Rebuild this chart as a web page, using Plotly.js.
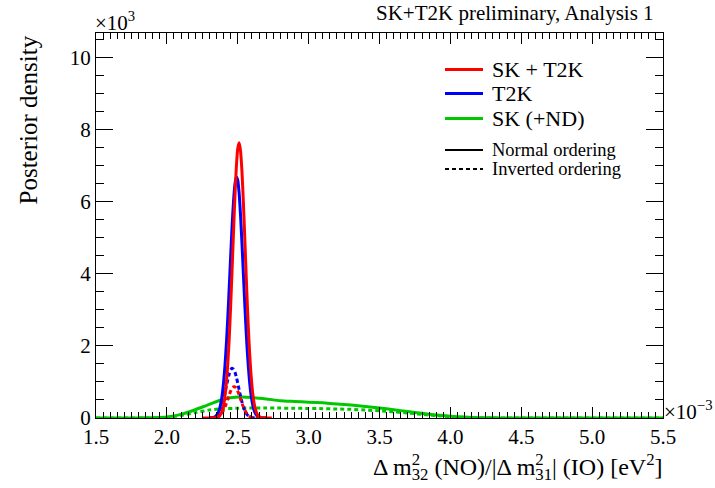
<!DOCTYPE html>
<html>
<head>
<meta charset="utf-8">
<script src="https://cdn.plot.ly/plotly-3.0.1.min.js"></script>
<style>html,body{margin:0;padding:0;background:#fff;}#chart{width:715px;height:488px;}</style>
</head>
<body>
<div id="chart"></div>
<script>
// ---- Data (units: x in 1e-3 eV^2, y in 1e3) ----
const peakX = [2.30,2.31,2.32,2.33,2.34,2.35,2.36,2.37,2.38,2.39,2.40,2.41,2.42,2.43,2.44,2.45,2.46,2.47,2.48,2.49,2.50,2.51,2.52,2.53,2.54,2.55,2.56,2.57,2.58,2.59,2.60,2.61,2.62,2.63,2.64,2.65,2.66,2.67,2.68,2.69,2.70];
const skT2kNO = [0,0,0.001,0.002,0.005,0.011,0.025,0.052,0.104,0.197,0.355,0.608,0.988,1.524,2.233,3.109,4.110,5.158,6.149,6.961,7.482,7.640,7.405,6.818,5.961,4.950,3.903,2.922,2.078,1.404,0.900,0.549,0.317,0.174,0.091,0.045,0.021,0.009,0.004,0.0015,0];
const t2kNO = [0,0.004,0.008,0.018,0.036,0.070,0.130,0.231,0.392,0.636,0.986,1.463,2.073,2.807,3.633,4.494,5.314,6.005,6.485,6.694,6.604,6.226,5.611,4.832,3.977,3.129,2.352,1.690,1.161,0.762,0.478,0.287,0.164,0.090,0.047,0.023,0.011,0.005,0.002,0,0];
const skT2kIO = [0,0,0.002,0.005,0.010,0.019,0.033,0.057,0.094,0.148,0.217,0.305,0.412,0.527,0.643,0.746,0.823,0.862,0.865,0.825,0.746,0.644,0.528,0.411,0.307,0.218,0.146,0.093,0.057,0.033,0.018,0.009,0.005,0.002,0.001,0,0,0,0,0,0];
const t2kIO = [0.002,0.005,0.009,0.019,0.035,0.062,0.106,0.169,0.262,0.384,0.534,0.708,0.893,1.070,1.225,1.338,1.379,1.351,1.274,1.135,0.966,0.779,0.601,0.440,0.307,0.204,0.129,0.078,0.044,0.024,0.013,0.006,0.003,0.001,0,0,0,0,0,0,0];
const redBaseX = [2.25,2.30];
const redBaseY = [0,0];
const redTailX = [2.70,2.74];
const redTailY = [0,0];

const greenX = [1.5,1.6,1.7,1.8,1.9,2.0,2.1,2.2,2.3,2.4,2.5,2.6,2.7,2.8,2.9,3.0,3.1,3.2,3.3,3.4,3.5,3.6,3.7,3.8,3.9,4.0,4.1,4.2,4.3,4.4,4.5,5.0,5.5];
const skNO = [0,0,0,0.003,0.01,0.03,0.1,0.23,0.38,0.52,0.58,0.57,0.53,0.48,0.46,0.44,0.42,0.39,0.36,0.32,0.28,0.23,0.18,0.13,0.085,0.05,0.025,0.01,0.004,0.001,0,0,0];
const skIO = [0,0,0,0,0.003,0.015,0.07,0.15,0.22,0.26,0.27,0.28,0.28,0.275,0.27,0.265,0.26,0.25,0.24,0.22,0.2,0.17,0.14,0.1,0.065,0.035,0.015,0.005,0,0,0,0,0];

const xTickVals = [1.5,2.0,2.5,3.0,3.5,4.0,4.5,5.0,5.5];
const xTickText = ["1.5","2.0","2.5","3.0","3.5","4.0","4.5","5.0","5.5"];
const yTickVals = [0,2,4,6,8,10];
const yTickText = ["0","2","4","6","8","10"];

const legendNames = ["SK + T2K","T2K","SK (+ND)","Normal ordering","Inverted ordering"];

// ---- Style ----
const RED = '#ff0000', BLUE = '#0000ff', GREEN = '#00c800';
const DASH = '4px,3px';
const FONT = '"Liberation Serif", "Times New Roman", serif';

function line(x, y, color, dash) {
  return {x: x, y: y, type: 'scatter', mode: 'lines', hoverinfo: 'skip', showlegend: false,
    line: {color: color, width: 3, dash: dash || 'solid', shape: 'spline', smoothing: 0.6}};
}

const traces = [
  line(greenX, skIO, GREEN, DASH),
  line(greenX, skNO, GREEN),
  line(peakX, t2kNO, BLUE),
  line(peakX, t2kIO, BLUE, DASH),
  line(redBaseX, redBaseY, RED),
  line(redTailX, redTailY, RED),
  line(peakX, skT2kNO, RED),
  line(peakX, skT2kIO, RED, DASH)
];

// pixel -> paper helpers (plot area: x 96..663, y 33..418)
const W = 567, H = 385;
const px = x => (x - 96) / W;
const py = y => (418 - y) / H;

const legendRows = [
  {y: 69.5, color: RED, dash: 'solid', width: 3, size: 22},
  {y: 93.5, color: BLUE, dash: 'solid', width: 3, size: 22},
  {y: 118.5, color: GREEN, dash: 'solid', width: 3, size: 22},
  {y: 150, color: '#000', dash: 'solid', width: 2, size: 18.5},
  {y: 169, color: '#000', dash: '4px,3px', width: 2, size: 18.5}
];
const shapes = legendRows.map(r => ({type: 'line', xref: 'paper', yref: 'paper',
  x0: px(445), x1: px(483), y0: py(r.y), y1: py(r.y),
  line: {color: r.color, width: r.width, dash: r.dash}}));

const annotations = legendRows.map((r, i) => ({xref: 'paper', yref: 'paper',
  x: px(490), y: py(r.y), xanchor: 'left', yanchor: 'middle', showarrow: false,
  text: legendNames[i], font: {family: FONT, size: r.size, color: '#000'}}));

// stacked super/subscript: superscript with negative letter-spacing so subscript starts beneath it
const stack = (sup, sub) => '<sup><span style="letter-spacing:-8.5px">' + sup + '</span></sup><sub>' + sub + '</sub>';

annotations.push(
  {xref: 'paper', yref: 'paper', x: px(656), y: py(13), xanchor: 'right', yanchor: 'middle', showarrow: false,
   text: 'SK+T2K preliminary, Analysis 1', font: {family: FONT, size: 21, color: '#000'}},
  {xref: 'paper', yref: 'paper', x: 0, y: 1, xanchor: 'left', yanchor: 'bottom', showarrow: false, xshift: -3, yshift: -4,
   text: '×10<sup>3</sup>', font: {family: FONT, size: 21, color: '#000'}},
  {xref: 'paper', yref: 'paper', x: 1, y: py(410), xanchor: 'left', yanchor: 'middle', showarrow: false, xshift: -1,
   text: '×10<sup>−3</sup>', font: {family: FONT, size: 21, color: '#000'}},
  {xref: 'paper', yref: 'paper', x: 1, y: py(467), xanchor: 'right', yanchor: 'middle', showarrow: false, xshift: 2,
   text: 'Δ m' + stack('2', '32') + ' (NO)/|Δ m' + stack('2', '31') + '| (IO) [eV<sup>2</sup>]',
   font: {family: FONT, size: 24, color: '#000'}},
  {xref: 'paper', yref: 'paper', x: px(28), y: py(34), xanchor: 'center', yanchor: 'top', showarrow: false, textangle: -90,
   text: 'Posterior density', font: {family: FONT, size: 25, color: '#000'}}
);

const layout = {
  width: 715, height: 488,
  margin: {l: 96, r: 52, t: 33, b: 70, pad: 0},
  paper_bgcolor: '#fff', plot_bgcolor: '#fff',
  showlegend: false,
  font: {family: FONT, size: 21, color: '#000'},
  xaxis: {range: [1.5, 5.5], showgrid: false, zeroline: false, showline: true, linecolor: '#000', linewidth: 1,
    mirror: 'allticks', ticks: 'inside', ticklen: 11, tickwidth: 1, tickcolor: '#000',
    tickmode: 'array', tickvals: xTickVals, ticktext: xTickText,
    tickfont: {family: FONT, size: 21, color: '#000'},
    minor: {dtick: 0.05, tick0: 1.5, ticks: 'inside', ticklen: 6, tickwidth: 1, tickcolor: '#000', showgrid: false}},
  yaxis: {range: [0, 10.69], showgrid: false, zeroline: false, showline: true, linecolor: '#000', linewidth: 1,
    mirror: 'allticks', ticks: 'inside', ticklen: 17, tickwidth: 1, tickcolor: '#000',
    tickmode: 'array', tickvals: yTickVals, ticktext: yTickText,
    tickfont: {family: FONT, size: 21, color: '#000'},
    minor: {dtick: 0.5, tick0: 0, ticks: 'inside', ticklen: 8, tickwidth: 1, tickcolor: '#000', showgrid: false}},
  shapes: shapes,
  annotations: annotations
};

Plotly.newPlot('chart', traces, layout, {staticPlot: true, displayModeBar: false});
</script>
</body>
</html>
